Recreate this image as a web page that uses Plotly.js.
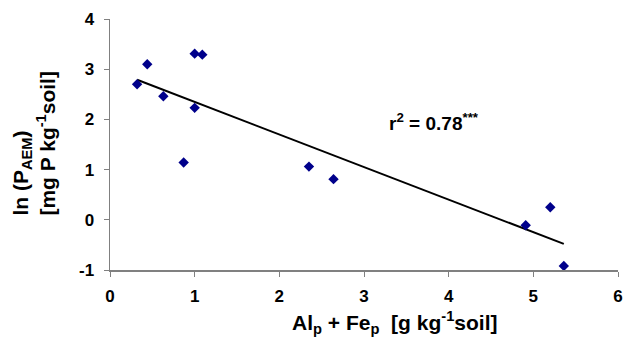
<!DOCTYPE html>
<html>
<head>
<meta charset="utf-8">
<script src="https://cdn.plot.ly/plotly-3.0.1.min.js"></script>
<style>html,body{margin:0;padding:0;background:#fff;}#chart{width:638px;height:338px;}</style>
</head>
<body>
<div id="chart"></div>
<script>
const xVals = [0.32, 0.44, 0.63, 1.00, 1.09, 1.00, 0.87, 2.35, 2.64, 4.91, 5.20, 5.36];
const yVals = [2.70, 3.10, 2.46, 3.31, 3.29, 2.23, 1.14, 1.06, 0.81, -0.11, 0.25, -0.92];
const trendX = [0.32, 5.36];
const trendY = [2.79, -0.48];
const xTicks = [0, 1, 2, 3, 4, 5, 6];
const yTicks = [-1, 0, 1, 2, 3, 4];
const xTitle = '<b>Al<sub>p</sub> + Fe<sub>p</sub>  [g kg<sup>-1</sup>soil]</b>';
const yTitle = '<b>ln (P<sub>AEM</sub>)<br>[mg P kg<sup>-1</sup>soil]</b>';
const rLabel = '<b>r<sup>2</sup> = 0.78<sup>***</sup></b>';
const fontFam = 'Liberation Sans, Arial, sans-serif';

const data = [
  {x: trendX, y: trendY, type: 'scatter', mode: 'lines',
   line: {color: '#000000', width: 2}, hoverinfo: 'skip'},
  {x: xVals, y: yVals, type: 'scatter', mode: 'markers',
   marker: {symbol: 'diamond', size: 8, color: '#00008B'}}
];

const layout = {
  width: 638, height: 338,
  margin: {l: 110, r: 20, t: 19, b: 68},
  paper_bgcolor: '#ffffff', plot_bgcolor: '#ffffff',
  showlegend: false,
  font: {family: fontFam, color: '#000', size: 14},
  xaxis: {
    range: [0, 6], tickvals: xTicks, ticktext: xTicks.map(v => '<b>' + v + '</b>'),
    showgrid: false, zeroline: false, showline: true, linecolor: '#808080', linewidth: 1.5,
    ticks: 'outside', ticklen: 5, tickcolor: '#808080', ticklabelstandoff: 5,
    tickfont: {family: fontFam, size: 17, color: '#000'}
  },
  yaxis: {
    range: [-1, 4], tickvals: yTicks, ticktext: yTicks.map(v => '<b>' + v + '</b>'),
    showgrid: false, zeroline: false, showline: true, linecolor: '#808080', linewidth: 1.5,
    ticks: 'outside', ticklen: 5, tickcolor: '#808080', ticklabelstandoff: 6,
    tickfont: {family: fontFam, size: 17, color: '#000'}
  },
  annotations: [
    {x: 3.83, y: 1.95, xref: 'x', yref: 'y', showarrow: false,
     text: rLabel, font: {family: fontFam, size: 19, color: '#000'}},
    {x: 0.561, y: -0.208, xref: 'paper', yref: 'paper', xanchor: 'center', yanchor: 'middle',
     showarrow: false, text: xTitle, font: {family: fontFam, size: 21, color: '#000'}},
    {x: -0.15, y: 0.21, xref: 'paper', yref: 'paper', xanchor: 'center', yanchor: 'bottom',
     showarrow: false, textangle: -90, align: 'left', text: yTitle,
     font: {family: fontFam, size: 21, color: '#000'}}
  ]
};

Plotly.newPlot('chart', data, layout, {displayModeBar: false, staticPlot: true});
</script>
</body>
</html>
